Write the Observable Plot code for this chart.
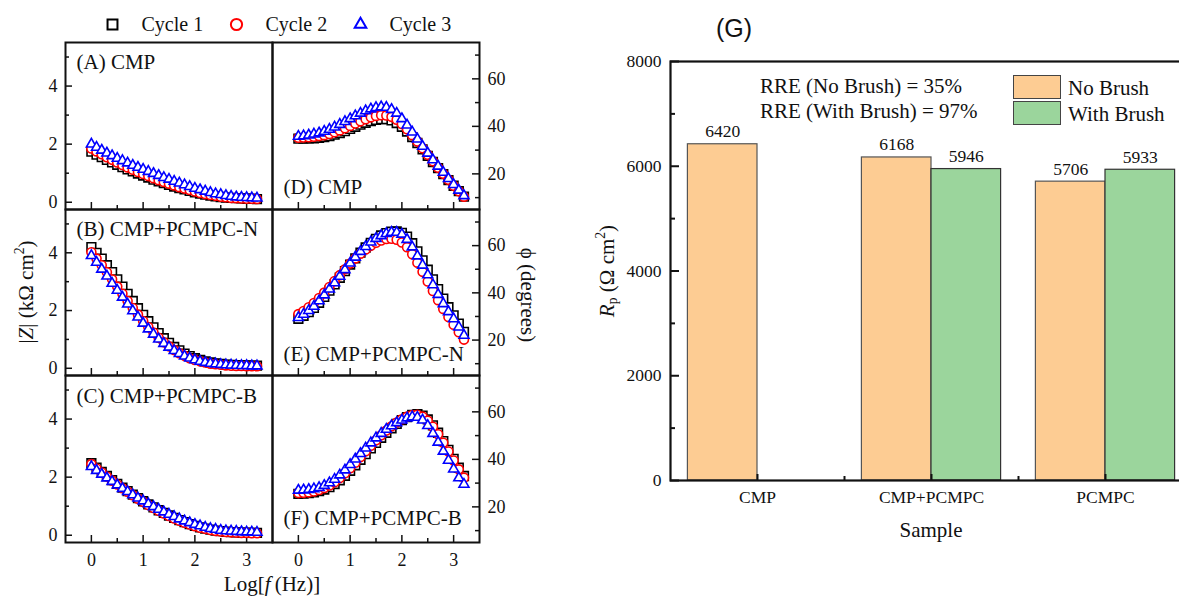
<!DOCTYPE html>
<html><head><meta charset="utf-8">
<script src="https://cdn.jsdelivr.net/npm/d3@7"></script>
<script src="https://cdn.jsdelivr.net/npm/@observablehq/plot@0.6"></script>
<style>
html,body{margin:0;padding:0;overflow:hidden;background:#fff;}
#root{position:relative;width:1179px;height:596px;overflow:hidden;background:#fff;}
#root svg{position:absolute;}
#root svg text{font-family:"Liberation Serif","Times New Roman",serif;}
.lbl{position:absolute;white-space:nowrap;font-family:"Liberation Serif","Times New Roman",serif;color:#111;line-height:1;}
.rot{transform:translate(-50%,-50%) rotate(-90deg);}
.rotr{transform:translate(-50%,-50%) rotate(90deg);}
.ctr{transform:translate(-50%,-50%);}
.sup{font-size:0.65em;vertical-align:0.6em;}
.sub{font-size:0.65em;vertical-align:-0.25em;}
.sw{position:absolute;border:1.5px solid #444;box-sizing:border-box;}
</style></head><body><div id="root"></div>
<script>
// ---------- data ----------
const cycles = ["Cycle 1", "Cycle 2", "Cycle 3"];
const logf = [0,0.1,0.2,0.3,0.4,0.5,0.6,0.7,0.8,0.9,1.0,1.1,1.2,1.3,1.4,1.5,1.6,1.7,1.8,1.9,2.0,2.1,2.2,2.3,2.4,2.5,2.6,2.7,2.8,2.9,3.0,3.1,3.2];

// |Z| (kOhm cm2)
const zA1 = [1.74,1.64,1.55,1.46,1.37,1.29,1.21,1.13,1.06,0.99,0.92,0.85,0.78,0.72,0.66,0.60,0.54,0.49,0.44,0.39,0.34,0.30,0.26,0.23,0.20,0.18,0.16,0.15,0.14,0.13,0.12,0.12,0.11];
const zA2 = [1.85,1.75,1.65,1.55,1.46,1.37,1.28,1.20,1.12,1.04,0.97,0.90,0.83,0.76,0.70,0.64,0.58,0.52,0.47,0.42,0.37,0.32,0.28,0.25,0.22,0.19,0.17,0.15,0.14,0.13,0.12,0.12,0.11];
const zA3 = [2.00,1.89,1.79,1.69,1.60,1.51,1.43,1.35,1.27,1.20,1.13,1.06,0.99,0.92,0.85,0.79,0.72,0.66,0.60,0.54,0.48,0.43,0.38,0.33,0.29,0.26,0.23,0.20,0.18,0.17,0.16,0.15,0.14];
const zB1 = [4.20,4.00,3.80,3.57,3.33,3.08,2.83,2.58,2.33,2.08,1.85,1.63,1.42,1.22,1.04,0.88,0.74,0.62,0.51,0.42,0.35,0.29,0.24,0.20,0.17,0.15,0.13,0.12,0.11,0.10,0.10,0.09,0.09];
const zB2 = [4.02,3.80,3.57,3.33,3.08,2.83,2.58,2.33,2.09,1.86,1.64,1.43,1.24,1.06,0.90,0.76,0.63,0.52,0.43,0.35,0.29,0.24,0.20,0.16,0.14,0.12,0.10,0.09,0.08,0.08,0.07,0.07,0.07];
const zB3 = [3.90,3.67,3.43,3.19,2.94,2.70,2.46,2.22,1.99,1.77,1.56,1.36,1.18,1.01,0.86,0.73,0.61,0.51,0.42,0.35,0.29,0.24,0.20,0.17,0.15,0.13,0.12,0.11,0.10,0.09,0.09,0.08,0.08];
const zC1 = [2.48,2.33,2.18,2.04,1.90,1.77,1.64,1.52,1.40,1.28,1.17,1.06,0.96,0.86,0.77,0.68,0.60,0.52,0.45,0.38,0.32,0.27,0.23,0.19,0.16,0.14,0.12,0.11,0.10,0.09,0.09,0.08,0.08];
const zC2 = [2.45,2.30,2.16,2.02,1.88,1.75,1.62,1.50,1.38,1.26,1.15,1.04,0.94,0.84,0.75,0.66,0.58,0.50,0.43,0.37,0.31,0.26,0.22,0.18,0.15,0.13,0.11,0.10,0.09,0.08,0.08,0.07,0.07];
const zC3 = [2.36,2.23,2.10,1.97,1.85,1.73,1.61,1.50,1.39,1.28,1.18,1.08,0.98,0.89,0.80,0.72,0.64,0.56,0.49,0.43,0.37,0.32,0.27,0.23,0.20,0.17,0.15,0.14,0.13,0.12,0.11,0.11,0.10];

// phase angle (degrees)
const pD1 = [34.8,34.8,34.9,35.0,35.2,35.5,35.9,36.5,37.2,38.0,38.9,39.8,40.7,41.5,42.2,42.7,43.0,43.0,42.5,41.4,39.8,37.8,35.5,33.0,30.3,27.6,25.0,22.4,19.9,17.4,15.0,12.7,10.4];
const pD2 = [35.2,35.3,35.4,35.6,35.9,36.3,36.8,37.5,38.3,39.2,40.2,41.2,42.1,43.0,43.8,44.4,44.7,44.6,44.0,42.8,41.0,38.8,36.3,33.6,30.8,28.0,25.3,22.6,20.0,17.5,15.0,12.7,10.4];
const pD3 = [35.8,36.0,36.3,36.7,37.2,37.9,38.7,39.7,40.8,42.0,43.2,44.4,45.5,46.5,47.3,47.9,48.2,48.0,47.1,45.5,43.2,40.5,37.6,34.6,31.6,28.7,25.9,23.2,20.6,18.0,15.5,13.1,10.8];
const pE1 = [29.0,30.3,31.8,33.6,35.8,38.3,40.9,43.6,46.4,49.2,52.0,54.6,57.0,59.2,61.2,62.9,64.3,65.3,65.9,66.0,65.4,63.8,61.0,57.6,53.8,49.8,45.7,41.6,37.6,33.9,30.5,27.0,23.5];
const pE2 = [31.0,32.3,33.9,35.7,37.8,40.1,42.5,45.0,47.5,50.0,52.4,54.6,56.6,58.4,59.9,61.2,62.2,62.8,62.9,62.5,61.3,59.3,56.4,52.8,48.9,44.8,40.8,36.9,33.2,29.8,26.5,23.3,20.2];
const pE3 = [29.5,30.9,32.5,34.3,36.6,39.1,41.6,44.2,47.0,49.8,52.6,55.1,57.5,59.6,61.5,63.0,64.2,65.1,65.6,65.6,64.8,62.6,59.4,55.6,51.7,47.6,43.4,39.3,35.4,32.0,29.0,25.5,22.0];
const pF1 = [25.5,25.6,25.8,26.1,26.6,27.3,28.3,29.6,31.2,33.1,35.2,37.5,39.8,42.2,44.6,46.9,49.1,51.2,53.1,54.9,56.5,57.8,58.7,59.0,58.4,56.8,54.3,51.2,47.7,44.0,40.2,36.5,33.0];
const pF2 = [25.8,25.9,26.1,26.5,27.1,27.9,29.0,30.4,32.1,34.1,36.3,38.6,41.0,43.4,45.7,48.0,50.1,52.1,53.9,55.5,56.9,58.0,58.7,58.8,58.0,56.3,53.7,50.6,47.0,43.3,39.5,35.8,32.3];
const pF3 = [27.0,27.1,27.3,27.6,28.1,29.0,30.1,31.6,33.4,35.5,37.8,40.1,42.4,44.7,46.9,49.0,50.9,52.6,54.1,55.4,56.5,57.4,57.9,57.7,56.5,54.2,50.9,47.2,43.4,39.6,35.9,32.2,29.5];

// panel (G)
const samples = ["CMP", "CMP+PCMPC", "PCMPC"];
const noBrush = [6420, 6168, 5706];
const withBrush = [null, 5946, 5933];
const brushKeys = ["No Brush", "With Brush"];
const rreLines = ["RRE (No Brush) = 35%", "RRE (With Brush) = 97%"];

// tick values
const zTicks = [0, 2, 4], zMinor = [1, 3, 5];
const pTicks = [20, 40, 60], pMinor = [10, 30, 50, 70];
const fTicks = [0, 1, 2, 3], fMinor = [0.5, 1.5, 2.5];
const rTicks = [0, 2000, 4000, 6000, 8000], rMinor = [1000, 3000, 5000, 7000];

// ---------- styles ----------
const SERIF = '"Liberation Serif", "Times New Roman", serif';
const symbols = ["square", "circle", "triangle"];
const colors = ["black", "red", "blue"];
const radii = [4.9, 4.5, 3.7];
const root = document.getElementById("root");
const fmt = d => `${d}`;

function place(el, left, top) { el.style.left = left + "px"; el.style.top = top + "px"; root.appendChild(el); }

function panel({series, yDomain, side, bottom, label, labelTop, labelOff, major, minor, left, top, H}) {
  const W = 207;
  const mL = side === "left" ? 45 : 1, mR = side === "left" ? 1 : 45;
  const mT = 1, mB = bottom ? 36 : 1;
  const inset = side === "left" ? "insetRight" : "insetLeft";
  const marks = [
    Plot.tickY(major, {y: d => d, [inset]: W - 7, strokeWidth: 1.5}),
    Plot.tickY(minor, {y: d => d, [inset]: W - 4, strokeWidth: 1.5}),
    Plot.tickX(fTicks, {x: d => d, insetTop: H - 7, strokeWidth: 1.5}),
    Plot.tickX(fMinor, {x: d => d, insetTop: H - 4, strokeWidth: 1.5}),
    ...series.map((s, i) => Plot.dot(s, {x: logf, y: s, symbol: symbols[i], r: radii[i], stroke: colors[i], fill: "white", strokeWidth: 1.6})),
    Plot.text([label], {frameAnchor: labelTop ? "top-left" : "bottom-left", dx: 11, dy: labelTop ? labelOff : -labelOff, textAnchor: "start", lineAnchor: "bottom", fontSize: 21, fill: "#111"}),
    Plot.frame({strokeWidth: 2})
  ];
  const svg = Plot.plot({
    width: mL + W + mR, height: mT + H + mB,
    marginLeft: mL, marginRight: mR, marginTop: mT, marginBottom: mB,
    x: {domain: [-0.5, 3.5], axis: bottom ? "bottom" : null, ticks: fTicks, tickFormat: fmt, tickSize: 0, tickPadding: 11, label: null},
    y: {domain: yDomain, axis: side, ticks: major, tickFormat: fmt, tickSize: 0, tickPadding: 8, label: null},
    style: {background: "none", overflow: "visible", fontFamily: SERIF, fontSize: "18px", color: "#111"},
    marks
  });
  place(svg, left - mL, top - mT);
}

const zDom = [-0.25, 5.5], pDom = [5, 75.3];
const rows = [[42, 167], [209, 166], [375, 167]];
panel({series: [zA1, zA2, zA3], yDomain: zDom, side: "left", bottom: false, label: "(A) CMP", labelTop: true, labelOff: 26, major: zTicks, minor: zMinor, left: 65, top: rows[0][0], H: rows[0][1]});
panel({series: [zB1, zB2, zB3], yDomain: zDom, side: "left", bottom: false, label: "(B) CMP+PCMPC-N", labelTop: true, labelOff: 26, major: zTicks, minor: zMinor, left: 65, top: rows[1][0], H: rows[1][1]});
panel({series: [zC1, zC2, zC3], yDomain: zDom, side: "left", bottom: true, label: "(C) CMP+PCMPC-B", labelTop: true, labelOff: 27, major: zTicks, minor: zMinor, left: 65, top: rows[2][0], H: rows[2][1]});
panel({series: [pD1, pD2, pD3], yDomain: pDom, side: "right", bottom: false, label: "(D) CMP", labelTop: false, labelOff: 16, major: pTicks, minor: pMinor, left: 272, top: rows[0][0], H: rows[0][1]});
panel({series: [pE1, pE2, pE3], yDomain: pDom, side: "right", bottom: false, label: "(E) CMP+PCMPC-N", labelTop: false, labelOff: 15, major: pTicks, minor: pMinor, left: 272, top: rows[1][0], H: rows[1][1]});
panel({series: [pF1, pF2, pF3], yDomain: pDom, side: "right", bottom: true, label: "(F) CMP+PCMPC-B", labelTop: false, labelOff: 18, major: pTicks, minor: pMinor, left: 272, top: rows[2][0], H: rows[2][1]});

// legend for cycles
{
  const svg = Plot.plot({
    width: 400, height: 32, marginLeft: 32, marginRight: 120, marginTop: 0, marginBottom: 0,
    x: {type: "point", domain: cycles, padding: 0, axis: null},
    y: {axis: null},
    style: {background: "none", overflow: "visible", fontFamily: SERIF, fontSize: "20px"},
    marks: [
      Plot.dot(cycles, {x: d => d, symbol: d => d, stroke: d => d, r: d => (d === cycles[2] ? 4.3 : 5.6), strokeWidth: 2, fill: "white", frameAnchor: "middle"}),
      Plot.text(cycles, {x: d => d, text: d => d, dx: 29, textAnchor: "start", frameAnchor: "middle", fill: "#111"})
    ],
    r: {type: "identity"},
    symbol: {domain: cycles, range: symbols},
    color: {domain: cycles, range: colors}
  });
  place(svg, 80, 8);
}

// axis titles of left figure
function label(html, cls, left, top, size, family) {
  const d = document.createElement("div");
  d.className = "lbl " + cls;
  d.innerHTML = html;
  d.style.fontSize = size + "px";
  if (family) d.style.fontFamily = family;
  place(d, left, top);
  return d;
}
label('|<i>Z</i>| (k&Omega; cm<span class="sup">2</span>)', "rot", 25, 292, 21);
label('&#981; (degrees)', "rotr", 527, 295, 21);
label('Log[<i>f</i>&thinsp;(Hz)]', "ctr", 272, 584, 21);

// ---------- panel (G) ----------
{
  const svg = Plot.plot({
    width: 594, height: 460, marginLeft: 70, marginRight: 2, marginTop: 1, marginBottom: 40,
    x: {type: "linear", domain: [0.5, 3.5], ticks: [1, 2, 3], tickFormat: i => samples[i - 1], tickSize: 0, tickPadding: 10, label: null},
    y: {domain: [0, 8000], ticks: rTicks, tickFormat: fmt, tickSize: 0, tickPadding: 9, label: null},
    style: {background: "none", overflow: "visible", fontFamily: SERIF, fontSize: "17.5px", color: "#111"},
    marks: [
      Plot.rectY(noBrush, {x1: (d, i) => i + 1 - 0.4, x2: (d, i) => i + 1, y: d => d, fill: "#FDCC93", stroke: "#555", strokeWidth: 1.2}),
      Plot.rectY(withBrush, {x1: (d, i) => i + 1, x2: (d, i) => i + 1.4, y: d => d, fill: "#9BD59C", stroke: "#333", strokeWidth: 1.2}),
      Plot.text(noBrush, {x: (d, i) => i + 1 - 0.2, y: d => d, text: fmt, dy: -7, lineAnchor: "bottom", fontSize: 17.5, fill: "#111"}),
      Plot.text(withBrush, {x: (d, i) => i + 1.2, y: d => d, text: d => (d == null ? null : `${d}`), dy: -7, lineAnchor: "bottom", fontSize: 17.5, fill: "#111"}),
      Plot.tickY(rTicks, {y: d => d, insetRight: 522 - 9, strokeWidth: 2}),
      Plot.tickY(rMinor, {y: d => d, insetRight: 522 - 5, strokeWidth: 2}),
      Plot.tickX([1, 2, 3], {x: d => d, insetTop: 419 - 6, strokeWidth: 2}),
      Plot.tickX([1.5, 2.5], {x: d => d, insetTop: 419 - 4, strokeWidth: 2}),
      Plot.frame({strokeWidth: 2.2})
    ]
  });
  place(svg, 600, 60);
}
label('(G)', "ctr", 734, 28, 25, "'Liberation Sans', Arial, sans-serif");
label('<i>R</i><span class="sub">p</span> (&Omega; cm<span class="sup">2</span>)', "rot", 607, 271, 21);
label('Sample', "ctr", 931, 530, 21);
rreLines.forEach((t, i) => label(t, "", 760, 76 + i * 24.6, 21));
// legend of (G)
["#FDCC93", "#9BD59C"].forEach((c, i) => {
  const s = document.createElement("div");
  s.className = "sw";
  s.style.width = "48px"; s.style.height = "24px"; s.style.background = c;
  place(s, 1013, 75 + i * 26);
  label(brushKeys[i], "", 1068, 77.5 + i * 26.5, 21);
});
</script></body></html>
